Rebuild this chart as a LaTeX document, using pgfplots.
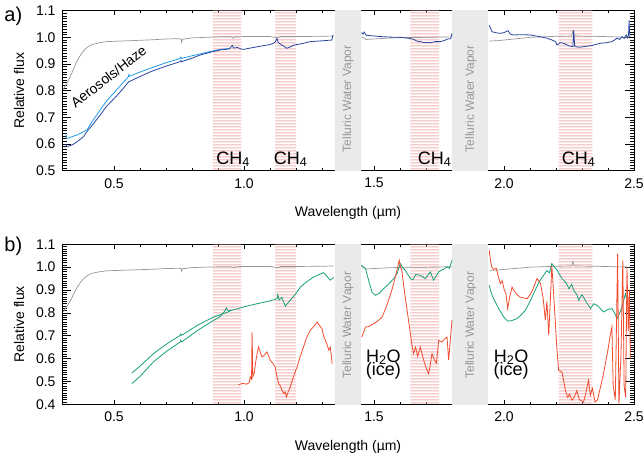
\documentclass[border=0pt]{standalone}
\usepackage{fontspec}
\setmainfont{Liberation Sans}
\usepackage{pgfplots}
\usepackage{pgfplotstable}
\pgfplotsset{compat=1.18}
\usetikzlibrary{patterns}

\definecolor{hatchpink}{RGB}{240,178,178}
\definecolor{bandgray}{RGB}{233,235,234}
\definecolor{refgray}{RGB}{150,150,150}
\definecolor{lightblue}{RGB}{30,155,230}
\definecolor{darkblue}{RGB}{40,70,160}
\definecolor{teal}{RGB}{20,160,120}
\definecolor{tomato}{RGB}{240,75,45}
\definecolor{labgray}{RGB}{150,150,150}

% wide tile so the hatching has no seams
\pgfdeclarepatternformonly{hlines3}{\pgfpointorigin}{\pgfqpoint{100pt}{3pt}}{\pgfqpoint{100pt}{3pt}}{
  \pgfsetlinewidth{1.2pt}
  \pgfpathmoveto{\pgfqpoint{0pt}{1.5pt}}
  \pgfpathlineto{\pgfqpoint{100pt}{1.5pt}}
  \pgfusepath{stroke}
}

% solar/telluric reference spectrum (same in both panels)
\pgfplotstableread{
x y
0.305 0.805
0.315 0.822
0.325 0.840
0.338 0.866
0.350 0.895
0.360 0.915
0.372 0.935
0.385 0.952
0.400 0.965
0.415 0.973
0.440 0.979
0.470 0.984
0.520 0.986
0.575 0.988
0.650 0.991
0.700 0.994
0.750 0.995
0.758 0.993
0.760 0.982
0.763 0.993
0.800 0.998
0.850 1.000
0.910 1.002
0.950 1.002
0.960 0.997
0.965 1.002
1.000 1.003
1.100 1.003
1.130 0.998
1.140 1.003
1.200 1.003
1.300 1.004
1.345 1.005
nan nan
1.452 1.003
1.470 0.992
1.500 0.994
1.550 0.997
1.600 0.999
1.700 1.000
1.800 1.002
nan nan
1.944 0.986
1.980 0.988
2.050 0.995
2.100 1.000
2.200 1.004
2.260 1.005
2.265 1.025
2.270 1.005
2.350 1.004
2.420 1.002
2.480 1.000
}\refspec

\pgfplotstableread{
x y
0.315 0.640
0.317 0.622
0.325 0.622
0.332 0.625
0.345 0.630
0.358 0.634
0.375 0.642
0.396 0.653
0.420 0.690
0.447 0.728
0.470 0.760
0.498 0.790
0.530 0.825
0.556 0.853
0.557 0.860
0.560 0.854
0.600 0.870
0.640 0.884
0.700 0.905
0.755 0.921
0.757 0.926
0.760 0.921
0.800 0.931
0.832 0.938
0.870 0.947
0.909 0.955
0.940 0.958
}\bluelight

\pgfplotstableread{
x y
0.315 0.600
0.318 0.592
0.325 0.592
0.335 0.595
0.345 0.600
0.360 0.610
0.383 0.628
0.400 0.652
0.420 0.675
0.447 0.709
0.470 0.740
0.498 0.768
0.530 0.802
0.556 0.833
0.600 0.853
0.640 0.871
0.700 0.892
0.755 0.909
0.757 0.913
0.760 0.909
0.800 0.922
0.832 0.934
0.870 0.944
0.909 0.953
0.930 0.955
0.945 0.958
0.955 0.970
0.960 0.960
0.975 0.962
0.990 0.956
0.998 0.955
1.030 0.961
1.070 0.968
1.100 0.973
1.114 0.978
1.122 0.985
1.127 0.996
1.132 0.980
1.146 0.971
1.165 0.959
1.180 0.965
1.191 0.971
1.220 0.976
1.255 0.984
1.300 0.987
1.338 0.990
1.342 1.009
nan nan
1.452 1.018
1.458 1.012
1.462 1.020
1.470 1.008
1.490 1.006
1.524 1.003
1.560 1.001
1.601 1.000
1.630 0.997
1.652 0.993
1.665 0.986
1.678 0.984
1.690 0.981
1.717 0.980
1.735 0.984
1.755 0.984
1.770 0.988
1.781 0.993
1.795 0.995
1.800 1.015
nan nan
1.943 1.046
1.948 1.035
1.954 1.021
1.970 1.017
1.986 1.015
2.000 1.018
2.015 1.025
2.025 1.012
2.037 1.009
2.070 1.010
2.101 1.009
2.130 1.004
2.165 0.997
2.185 0.990
2.198 0.984
2.204 0.971
2.215 0.980
2.229 0.978
2.250 0.968
2.265 0.965
2.268 1.027
2.272 0.965
2.290 0.963
2.306 0.965
2.340 0.970
2.371 0.978
2.395 0.980
2.415 0.984
2.425 0.990
2.435 0.997
2.445 0.992
2.454 1.003
2.462 0.996
2.470 1.009
2.475 0.998
2.479 1.010
2.481 1.065
2.484 1.002
}\bluedark

\pgfplotstableread{
x y
0.569 0.537
0.600 0.567
0.652 0.622
0.700 0.662
0.755 0.702
0.757 0.708
0.760 0.702
0.820 0.745
0.883 0.782
0.930 0.800
0.950 0.810
}\greenupper

\pgfplotstableread{
x y
0.569 0.491
0.600 0.522
0.652 0.586
0.700 0.630
0.755 0.673
0.757 0.680
0.760 0.673
0.820 0.722
0.883 0.767
0.910 0.785
0.928 0.811
0.932 0.822
0.940 0.808
0.960 0.813
0.998 0.826
1.050 0.840
1.100 0.852
1.127 0.862
1.130 0.880
1.135 0.856
1.145 0.868
1.159 0.829
1.165 0.838
1.178 0.855
1.200 0.885
1.217 0.913
1.240 0.935
1.268 0.957
1.290 0.968
1.306 0.976
1.315 0.965
1.332 0.943
1.345 0.955
nan nan
1.451 1.008
1.467 0.994
1.480 0.940
1.492 0.891
1.505 0.877
1.520 0.885
1.537 0.906
1.555 0.925
1.576 0.950
1.590 0.975
1.601 1.016
1.610 0.998
1.620 0.987
1.630 0.968
1.640 0.950
1.650 0.945
1.660 0.968
1.678 0.964
1.697 0.950
1.717 0.979
1.729 0.943
1.749 0.979
1.765 0.990
1.781 1.001
1.790 0.995
1.800 1.030
nan nan
1.943 0.921
1.950 0.890
1.960 0.862
1.980 0.818
1.999 0.782
2.014 0.764
2.030 0.766
2.050 0.775
2.065 0.790
2.082 0.811
2.100 0.850
2.120 0.899
2.135 0.935
2.152 0.964
2.165 0.985
2.175 0.975
2.184 1.016
2.195 1.000
2.204 0.987
2.215 0.965
2.223 0.950
2.240 0.930
2.250 0.905
2.260 0.925
2.268 0.899
2.280 0.880
2.287 0.855
2.300 0.880
2.315 0.850
2.333 0.819
2.345 0.840
2.358 0.833
2.370 0.820
2.383 0.804
2.400 0.815
2.415 0.819
2.425 0.800
2.435 0.775
2.445 0.800
2.454 0.826
2.467 0.884
2.472 0.860
}\greenmain

\pgfplotstableread{
x y
0.979 0.486
0.990 0.490
0.998 0.491
1.010 0.488
1.020 0.495
1.024 0.520
1.029 0.510
1.031 0.716
1.034 0.520
1.040 0.540
1.044 0.578
1.050 0.620
1.056 0.651
1.062 0.630
1.069 0.607
1.078 0.615
1.088 0.629
1.095 0.610
1.101 0.593
1.110 0.580
1.120 0.563
1.127 0.520
1.133 0.491
1.140 0.480
1.152 0.447
1.158 0.455
1.163 0.432
1.170 0.455
1.178 0.476
1.190 0.520
1.204 0.563
1.215 0.605
1.229 0.651
1.240 0.690
1.255 0.724
1.268 0.740
1.281 0.760
1.290 0.745
1.300 0.731
1.306 0.700
1.313 0.680
1.320 0.660
1.326 0.637
1.332 0.650
1.339 0.578
nan nan
1.453 0.694
1.460 0.715
1.467 0.738
1.480 0.740
1.499 0.753
1.515 0.765
1.531 0.782
1.545 0.820
1.556 0.855
1.570 0.905
1.582 0.957
1.590 0.995
1.597 1.030
1.602 1.000
1.607 0.986
1.613 0.930
1.620 0.870
1.630 0.790
1.640 0.709
1.646 0.660
1.652 0.622
1.660 0.650
1.668 0.610
1.678 0.651
1.685 0.620
1.691 0.593
1.700 0.560
1.710 0.534
1.716 0.570
1.723 0.622
1.730 0.600
1.740 0.580
1.749 0.680
1.760 0.672
1.770 0.685
1.781 0.694
1.787 0.593
1.795 0.700
1.800 0.768
nan nan
1.943 1.074
1.948 1.030
1.953 1.000
1.960 0.990
1.970 0.995
1.978 0.960
1.986 0.928
1.993 0.940
2.000 0.905
2.008 0.880
2.014 0.819
2.022 0.870
2.031 0.913
2.040 0.895
2.050 0.880
2.060 0.870
2.075 0.865
2.089 0.862
2.100 0.880
2.110 0.900
2.127 0.950
2.140 0.930
2.150 0.870
2.159 0.768
2.165 0.850
2.172 0.702
2.178 0.850
2.184 1.008
2.190 0.900
2.197 0.768
2.203 0.650
2.210 0.549
2.223 0.541
2.230 0.500
2.236 0.461
2.245 0.430
2.252 0.445
2.261 0.418
2.270 0.430
2.280 0.460
2.290 0.420
2.306 0.410
2.315 0.450
2.325 0.505
2.332 0.440
2.340 0.470
2.350 0.410
2.360 0.420
2.370 0.470
2.380 0.520
2.390 0.578
2.400 0.640
2.408 0.700
2.415 0.738
2.420 0.480
2.428 0.420
2.437 1.059
2.442 0.400
2.450 0.620
2.457 1.030
2.462 0.480
2.468 0.430
2.473 1.000
2.478 0.720
2.482 0.900
2.486 0.600
}\redspec

\pgfplotsset{
  specaxis/.style={
    scale only axis, width=572pt, height=160pt,
    xmin=0.3, xmax=2.5,
    xtick={0.5,1.0,1.5,2.0,2.5}, minor x tick num=4,
    minor y tick num=9,
    tick align=inside,
    major tick length=6pt, minor tick length=3pt,
    every tick/.style={black, line width=0.6pt},
    xtick style={/pgfplots/major tick length=4.5pt, /pgfplots/minor tick length=2.2pt},
    ytick style={/pgfplots/major tick length=9pt, /pgfplots/minor tick length=4.5pt},
    axis line style={line width=0.9pt},
    font=\fontsize{14}{16}\selectfont,
    /pgf/number format/assume math mode=true,
    /pgf/number format/fixed, /pgf/number format/fixed zerofill,
    /pgf/number format/precision=1,
    xticklabel style={yshift=-4pt},
    yticklabel style={xshift=-3pt},
    xlabel={Wavelength (µm)}, ylabel={Relative flux},
    every axis x label/.style={at={(axis description cs:0.5,-0.264)}, anchor=center},
    every axis y label/.style={at={(axis description cs:-0.075,0.5)}, rotate=90, anchor=center},
    unbounded coords=jump,
    clip=true,
  },
  ch4band/.style={draw=none, forget plot, pattern=hlines3, pattern color=hatchpink},
  waterband/.style={draw=none, forget plot, fill=bandgray},
}
\tikzset{
  tell/.style={rotate=90, text=labgray, font=\fontsize{12}{14}\selectfont},
  big/.style={font=\fontsize{18}{20}\selectfont},
}

\begin{document}
\begin{tikzpicture}
% ---- panel a
\begin{axis}[specaxis, at={(62pt,287.3pt)}, anchor=south west,
  ymin=0.5, ymax=1.1, ytick={0.5,0.6,...,1.11}]
\addplot[ch4band] coordinates {(0.88,0.4)(0.99,0.4)(0.99,1.2)(0.88,1.2)} -- cycle;
\addplot[ch4band] coordinates {(1.12,0.4)(1.20,0.4)(1.20,1.2)(1.12,1.2)} -- cycle;
\addplot[ch4band] coordinates {(1.64,0.4)(1.75,0.4)(1.75,1.2)(1.64,1.2)} -- cycle;
\addplot[ch4band] coordinates {(2.21,0.4)(2.34,0.4)(2.34,1.2)(2.21,1.2)} -- cycle;
\addplot[waterband] coordinates {(1.35,0.4)(1.45,0.4)(1.45,1.2)(1.35,1.2)} -- cycle;
\addplot[waterband] coordinates {(1.80,0.4)(1.94,0.4)(1.94,1.2)(1.80,1.2)} -- cycle;
\addplot[refgray, line width=0.7pt] table {\refspec};
\addplot[lightblue, line width=0.8pt] table {\bluelight};
\addplot[darkblue, line width=0.8pt] table {\bluedark};
\node[tell] at (1.40,0.769) {Telluric Water Vapor};
\node[tell] at (1.872,0.769) {Telluric Water Vapor};
\node[big, anchor=base west] at (0.880,0.525) {CH\textsubscript{4}};
\node[big, anchor=base west] at (1.101,0.525) {CH\textsubscript{4}};
\node[big, anchor=base west] at (1.655,0.525) {CH\textsubscript{4}};
\node[big, anchor=base west] at (2.209,0.525) {CH\textsubscript{4}};
\node[rotate=37.7] at (0.479,0.853) {Aerosols/Haze};
\end{axis}
% ---- panel b
\begin{axis}[specaxis, at={(62pt,53.7pt)}, anchor=south west,
  ymin=0.4, ymax=1.1, ytick={0.4,0.5,...,1.11}]
\addplot[ch4band] coordinates {(0.88,0.3)(0.99,0.3)(0.99,1.2)(0.88,1.2)} -- cycle;
\addplot[ch4band] coordinates {(1.12,0.3)(1.20,0.3)(1.20,1.2)(1.12,1.2)} -- cycle;
\addplot[ch4band] coordinates {(1.64,0.3)(1.75,0.3)(1.75,1.2)(1.64,1.2)} -- cycle;
\addplot[ch4band] coordinates {(2.21,0.3)(2.34,0.3)(2.34,1.2)(2.21,1.2)} -- cycle;
\addplot[waterband] coordinates {(1.35,0.3)(1.45,0.3)(1.45,1.2)(1.35,1.2)} -- cycle;
\addplot[waterband] coordinates {(1.80,0.3)(1.94,0.3)(1.94,1.2)(1.80,1.2)} -- cycle;
\addplot[refgray, line width=0.7pt] table {\refspec};
\addplot[teal, line width=0.8pt] table {\greenupper};
\addplot[teal, line width=0.8pt] table {\greenmain};
\addplot[tomato, line width=0.8pt] table {\redspec};
\node[tell] at (1.40,0.746) {Telluric Water Vapor};
\node[tell] at (1.872,0.746) {Telluric Water Vapor};
\node[big, anchor=base] at (1.536,0.585) {H\textsubscript{2}O};
\node[big, anchor=base] at (1.536,0.524) {(ice)};
\node[big, anchor=base] at (2.027,0.585) {H\textsubscript{2}O};
\node[big, anchor=base] at (2.027,0.524) {(ice)};
\end{axis}
\node[font=\fontsize{20}{22}\selectfont] at (13.3pt,441.3pt) {a)};
\node[font=\fontsize{20}{22}\selectfont] at (13.3pt,211.5pt) {b)};
\pgfresetboundingbox
\path[use as bounding box] (0,0) rectangle (643pt,458pt);
\end{tikzpicture}
\end{document}
